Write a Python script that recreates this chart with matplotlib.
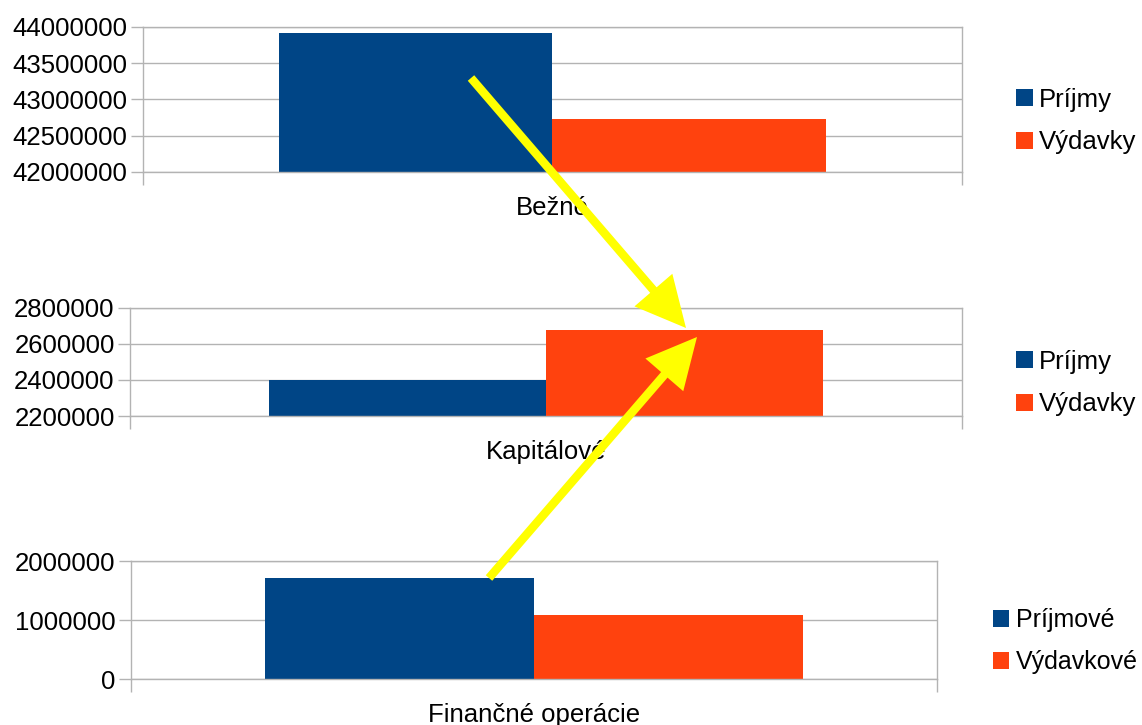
import matplotlib
matplotlib.use("Agg")
import matplotlib.pyplot as plt
from matplotlib.patches import FancyArrow
import numpy as np

plt.rcParams['font.family'] = ['Liberation Sans', 'DejaVu Sans']
plt.rcParams['font.size'] = 18.5

blue = '#004586'
orange = '#ff420e'
grid = '#b3b3b3'

# data
categories = ['Bežné', 'Kapitálové', 'Finančné operácie']
series_names = [['Príjmy', 'Výdavky'], ['Príjmy', 'Výdavky'], ['Príjmové', 'Výdavkové']]
prijmy = [43920000, 2402000, 1710000]
vydavky = [42730000, 2675000, 1085000]
y_ranges = [(42000000, 44000000, 500000), (2200000, 2800000, 200000), (0, 2000000, 1000000)]

fig = plt.figure(figsize=(11.42, 7.25), dpi=100)

# axes boxes in figure fractions
boxes = [
    [0.1252, 0.7628, 0.7172, 0.2000],
    [0.1138, 0.4262, 0.7285, 0.1490],
    [0.1147, 0.0634, 0.7058, 0.1628],
]
legend_pos = [(1016 / 1142, 1 - 121 / 725), (1016 / 1142, 1 - 383 / 725), (993 / 1142, 1 - 641 / 725)]
legend_size = [18.5, 18.5, 18]

for i, box in enumerate(boxes):
    ax = fig.add_axes(box)
    lo, hi, step = y_ranges[i]
    w = 1 / 3
    ax.bar(-w / 2, prijmy[i] - lo, bottom=lo, width=w, color=blue, label=series_names[i][0], zorder=2)
    ax.bar(w / 2, vydavky[i] - lo, bottom=lo, width=w, color=orange, label=series_names[i][1], zorder=2)
    ax.set_xlim(-0.5, 0.5)
    ax.set_ylim(lo, hi)
    ax.set_yticks(np.arange(lo, hi + 1, step))
    ax.yaxis.set_major_formatter(matplotlib.ticker.FuncFormatter(lambda v, p: '%d' % v))
    ax.set_xticks([-0.5, 0.5])
    ax.set_xticklabels(['', ''])
    ax.set_xticks([0], minor=True)
    ax.set_xticklabels([categories[i]], minor=True)
    ax.tick_params(axis='x', which='major', length=9, width=1, color=grid)
    ax.tick_params(axis='x', which='minor', length=0, pad=17)
    ax.tick_params(axis='y', length=9, width=1, color=grid, pad=2)
    for s in ax.spines.values():
        s.set_color(grid)
        s.set_linewidth(1)
        s.set_zorder(3)
    ax.grid(axis='y', color=grid, lw=1, zorder=0)
    ax.legend(loc='center left', bbox_to_anchor=legend_pos[i], bbox_transform=fig.transFigure,
              frameon=False, handlelength=0.65, handleheight=0.65, handletextpad=0.25,
              labelspacing=0.72, borderpad=0, borderaxespad=0, fontsize=legend_size[i])

# yellow arrows drawn on top (figure pixels / 100 -> inches)
H = 7.25
def px_arrow(x0, y0, x1, y1):
    a = FancyArrow(x0 / 100, H - y0 / 100, (x1 - x0) / 100, -(y1 - y0) / 100,
                   width=0.085, head_width=0.5, head_length=0.5, length_includes_head=True,
                   color='#ffff00', lw=0, transform=fig.dpi_scale_trans, zorder=10)
    fig.add_artist(a)

px_arrow(471, 78, 686, 328)
px_arrow(489, 578, 697, 337)

fig.savefig('out.png', dpi=100)
